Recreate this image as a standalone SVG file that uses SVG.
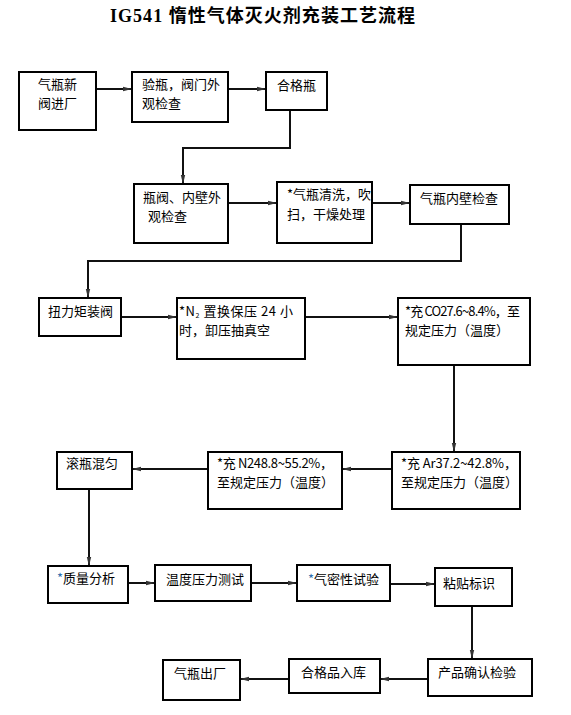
<svg xmlns="http://www.w3.org/2000/svg" width="571" height="715" viewBox="0 0 571 715">
<style>
.box{fill:#fff;stroke:#000;stroke-width:2}
.t{font-family:"Noto Sans CJK SC","Liberation Sans",sans-serif;font-size:13px;fill:#000}
.c{fill:none;stroke:#111;stroke-width:2}
.title{font-family:"Liberation Serif","Noto Sans CJK SC",serif;font-size:18px;font-weight:bold;fill:#000}
.star{fill:#2f6fb0}
</style>
<defs>
<marker id="ah" markerUnits="userSpaceOnUse" markerWidth="9" markerHeight="6" refX="9" refY="3" orient="auto">
<path d="M0,0.8 L9,3 L0,5.2 z" fill="#333"/>
</marker>
</defs>
<rect width="571" height="715" fill="#fff"/>
<text class="title" x="110" y="22" textLength="305">IG541 惰性气体灭火剂充装工艺流程</text>
<g id="connectors">
<path class="c" marker-end="url(#ah)" d="M96,89 H132"/>
<path class="c" marker-end="url(#ah)" d="M228,89 H266"/>
<path class="c" marker-end="url(#ah)" d="M290,110 V148 H183 V184"/>
<path class="c" marker-end="url(#ah)" d="M228,203 H277"/>
<path class="c" marker-end="url(#ah)" d="M372,203 H410"/>
<path class="c" marker-end="url(#ah)" d="M461,224 V261 H88 V298"/>
<path class="c" marker-end="url(#ah)" d="M121,317 H177"/>
<path class="c" marker-end="url(#ah)" d="M305,317 H398"/>
<path class="c" marker-end="url(#ah)" d="M454,365 V452"/>
<path class="c" marker-end="url(#ah)" d="M392,469 H342"/>
<path class="c" marker-end="url(#ah)" d="M208,469 H132"/>
<path class="c" marker-end="url(#ah)" d="M89,489 V566"/>
<path class="c" marker-end="url(#ah)" d="M120,583 H155"/>
<path class="c" marker-end="url(#ah)" d="M251,583 H297"/>
<path class="c" marker-end="url(#ah)" d="M390,584 H435"/>
<path class="c" marker-end="url(#ah)" d="M472,606 V659"/>
<path class="c" marker-end="url(#ah)" d="M428,679 H380"/>
<path class="c" marker-end="url(#ah)" d="M289,679 H240"/>
</g>
<g id="n1"><rect class="box" x="19" y="72" width="77" height="58"/><text class="t" x="38" y="89">气瓶新</text><text class="t" x="38" y="108">阀进厂</text></g>
<g id="n2"><rect class="box" x="132" y="72" width="96" height="50"/><text class="t" x="142" y="89">验瓶，阀门外</text><text class="t" x="142" y="108">观检查</text></g>
<g id="n3"><rect class="box" x="266" y="72" width="61" height="38"/><text class="t" x="277" y="90">合格瓶</text></g>
<g id="n4"><rect class="box" x="134" y="184" width="94" height="59"/><text class="t" x="143" y="202">瓶阀、内壁外</text><text class="t" x="148" y="221">观检查</text></g>
<g id="n5"><rect class="box" x="277" y="182" width="95" height="61"/><text class="t" x="287" y="199">*气瓶清洗，吹</text><text class="t" x="287" y="219">扫，干燥处理</text></g>
<g id="n6"><rect class="box" x="410" y="185" width="99" height="39"/><text class="t" x="420" y="203">气瓶内壁检查</text></g>
<g id="n7"><rect class="box" x="39" y="298" width="82" height="38"/><text class="t" x="48" y="316">扭力矩装阀</text></g>
<g id="n8"><rect class="box" x="177" y="298" width="128" height="61"/><text class="t" x="179" y="316" textLength="114">*N<tspan font-size="7" dy="2">2</tspan><tspan dy="-2"> 置换保压 24 小</tspan></text><text class="t" x="179" y="335">时，卸压抽真空</text></g>
<g id="n9"><rect class="box" x="398" y="298" width="132" height="67"/><text class="t" x="405" y="316" textLength="115">*充 CO27.6~8.4%，至</text><text class="t" x="405" y="335">规定压力（温度）</text></g>
<g id="n10"><rect class="box" x="57" y="452" width="75" height="37"/><text class="t" x="66" y="468">滚瓶混匀</text></g>
<g id="n11"><rect class="box" x="208" y="452" width="134" height="57"/><text class="t" x="217" y="468" textLength="116">*充 N248.8~55.2%，</text><text class="t" x="217" y="487">至规定压力（温度）</text></g>
<g id="n12"><rect class="box" x="392" y="452" width="128" height="57"/><text class="t" x="401" y="468" textLength="116">*充 Ar37.2~42.8%，</text><text class="t" x="401" y="487">至规定压力（温度）</text></g>
<g id="n13"><rect class="box" x="48" y="566" width="80" height="37"/><text class="t" x="57" y="583"><tspan class="star">*</tspan>质量分析</text></g>
<g id="n14"><rect class="box" x="155" y="565" width="96" height="36"/><text class="t" x="166" y="584">温度压力测试</text></g>
<g id="n15"><rect class="box" x="297" y="565" width="93" height="36"/><text class="t" x="308" y="584"><tspan class="star">*</tspan>气密性试验</text></g>
<g id="n16"><rect class="box" x="435" y="568" width="77" height="38"/><text class="t" x="443" y="588">粘贴标识</text></g>
<g id="n17"><rect class="box" x="163" y="660" width="77" height="40"/><text class="t" x="174" y="678">气瓶出厂</text></g>
<g id="n18"><rect class="box" x="289" y="659" width="91" height="34"/><text class="t" x="301" y="677">合格品入库</text></g>
<g id="n19"><rect class="box" x="428" y="659" width="104" height="37"/><text class="t" x="438" y="677">产品确认检验</text></g>
</svg>
